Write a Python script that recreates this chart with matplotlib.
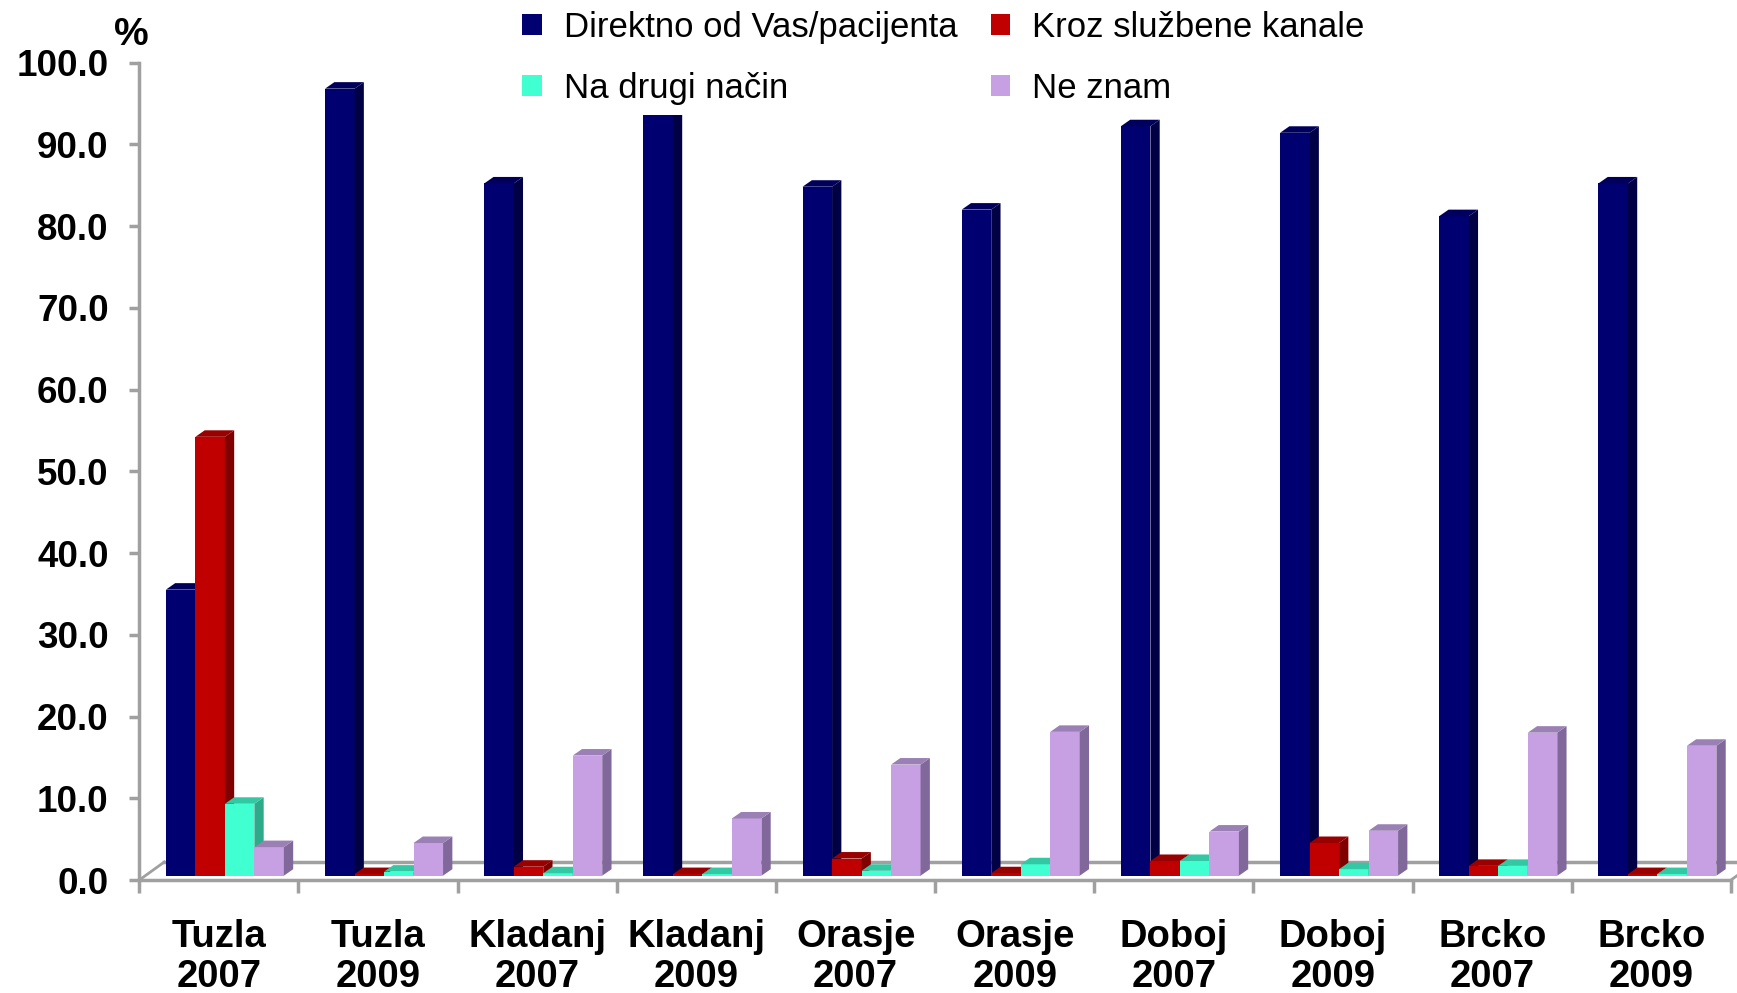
import numpy as np
import matplotlib
matplotlib.use("Agg")
import matplotlib.pyplot as plt
import matplotlib.transforms as mtrans
from matplotlib.patches import Polygon, Patch

plt.rcParams['font.family'] = ['Liberation Sans', 'DejaVu Sans']

# podaci
places = ['Tuzla\n2007', 'Tuzla\n2009', 'Kladanj\n2007', 'Kladanj\n2009', 'Orasje\n2007',
          'Orasje\n2009', 'Doboj\n2007', 'Doboj\n2009', 'Brcko\n2007', 'Brcko\n2009']
direktno = [35.0, 96.3, 84.7, 94.0, 84.3, 81.5, 91.7, 90.9, 80.7, 84.7]
kroz_kanale = [53.7, 0.2, 1.1, 0.2, 2.1, 0.3, 1.8, 4.0, 1.2, 0.2]
drugi_nacin = [8.8, 0.5, 0.3, 0.2, 0.6, 1.4, 1.8, 0.8, 1.2, 0.2]
ne_znam = [3.5, 4.0, 14.7, 7.0, 13.6, 17.6, 5.4, 5.5, 17.5, 15.9]

series = [direktno, kroz_kanale, drugi_nacin, ne_znam]
names = ['Direktno od Vas/pacijenta', 'Kroz službene kanale', 'Na drugi način', 'Ne znam']
front = ['#000070', '#c00000', '#40ffd0', '#c6a0e2']
side = ['#000045', '#800000', '#2caa8a', '#80689a']
top = ['#00005c', '#990000', '#33c8a4', '#9a80b4']

W, H = 1737, 993
fig = plt.figure(figsize=(W / 100, H / 100), dpi=100)
ax = fig.add_axes([139.3 / W, 113 / H, (1731 - 139.3) / W, (880 - 62.7) / H])
ax.set_xlim(-0.5, 9.5)
ax.set_ylim(0, 100)

px_x = (1731 - 139.3) / 10.0
px_y = (880 - 62.7) / 100.0
ddx, ddy = 9.3 / px_x, 6.5 / px_y
bw = 29.5 / px_x

# pomak stubića prema unutra (3D dubina)
shift = ax.transData + mtrans.ScaledTranslation(6 / 100, 4.3 / 100, fig.dpi_scale_trans)

x = np.arange(len(places))
for k, vals in enumerate(series):
    pos = x + (k - 1.5) * bw
    bars = ax.bar(pos, vals, width=bw, color=front[k], linewidth=0,
                  transform=shift, zorder=3 + k)
    for r in bars:
        x0, x1, v = r.get_x(), r.get_x() + r.get_width(), r.get_height()
        ax.add_patch(Polygon([(x1, 0), (x1 + ddx, ddy), (x1 + ddx, v + ddy), (x1, v)],
                             closed=True, facecolor=side[k], linewidth=0,
                             transform=shift, zorder=3 + k))
        ax.add_patch(Polygon([(x0, v), (x1, v), (x1 + ddx, v + ddy), (x0 + ddx, v + ddy)],
                             closed=True, facecolor=top[k], linewidth=0,
                             transform=shift, zorder=3 + k))

# pod
gray = '#a0a0a0'
fx, fy = 25 / px_x, 18 / px_y
ax.plot([-0.5 + fx, 9.5 + fx], [fy, fy], color=gray, lw=2.5, zorder=1, clip_on=False)
ax.plot([-0.5, -0.5 + fx], [0, fy], color=gray, lw=2, zorder=1, clip_on=False)
ax.plot([9.5, 9.5 + fx], [0, fy], color=gray, lw=2, zorder=1, clip_on=False)

for s in ['top', 'right']:
    ax.spines[s].set_visible(False)
for s in ['left', 'bottom']:
    ax.spines[s].set_color(gray)
    ax.spines[s].set_linewidth(2.5)

ax.set_yticks(np.arange(0, 101, 10))
ax.set_yticklabels(['%.1f' % v for v in np.arange(0, 101, 10)], fontsize=26.5, fontweight='bold')
ax.tick_params(axis='y', length=7, width=2.5, color=gray, pad=15)

ax.set_xticks(x)
ax.set_xticklabels(places, fontsize=27.5, fontweight='bold', linespacing=1.15)
ax.set_xticks(np.arange(-0.5, 10, 1), minor=True)
ax.tick_params(axis='x', which='major', length=0, pad=28)
ax.tick_params(axis='x', which='minor', length=9, width=2.5, color=gray)

fig.text(131 / W, 1 - 35 / H, '%', fontsize=28, fontweight='bold', ha='center', va='center')

order = [0, 2, 1, 3]
handles = [Patch(facecolor=front[i], edgecolor='none') for i in order]
leg = ax.legend(handles, [names[i] for i in order], ncol=2, loc='lower left',
                bbox_to_anchor=(512 / W, 1 - 115 / H), bbox_transform=fig.transFigure,
                fontsize=25, frameon=True, framealpha=1, edgecolor='none',
                facecolor='white', fancybox=False, handlelength=0.55, handleheight=0.55,
                handletextpad=0.65, columnspacing=0.95, labelspacing=0.8, borderpad=0.3,
                borderaxespad=0)
leg.set_zorder(20)

fig.savefig('out.png', dpi=100)
